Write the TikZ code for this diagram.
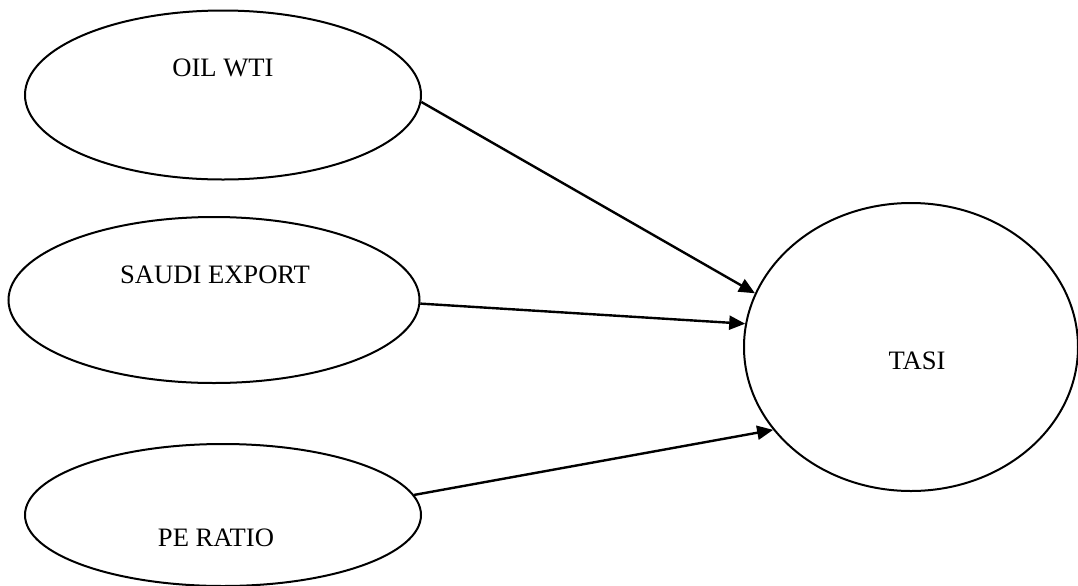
\documentclass[tikz,border=0pt]{standalone}
\usepackage{fontspec}
\setmainfont{Liberation Serif}
\usetikzlibrary{shapes.geometric,arrows.meta}
\begin{document}
\begin{tikzpicture}[x=0.5pt,y=-0.5pt,
  oval/.style={draw,ellipse,line width=1pt,inner sep=0pt},
  lbl/.style={font=\fontsize{13.3}{15}\selectfont,inner sep=0pt},
  conn/.style={line width=1.2pt,-{Triangle[length=8pt,width=7pt]}}]
\useasboundingbox (0,0) rectangle (1078,585);
\node[oval,minimum width=198pt,minimum height=84.5pt] (oil) at (223,95) {};
\node[oval,minimum width=205.5pt,minimum height=83pt] (saudi) at (214,300) {};
\node[oval,minimum width=198pt,minimum height=71pt] (pe) at (223,515) {};
\node[oval,minimum width=167pt,minimum height=144pt] (tasi) at (911,347) {};
\node[lbl] (toil) at (223,68) {OIL WTI};
\node[lbl] (tsaudi) at (215,275) {SAUDI EXPORT};
\node[lbl] (tpe) at (216,538) {PE RATIO};
\node[lbl] (ttasi) at (917,361) {TASI};
\draw[conn] (oil.-2.3) -- (tasi.161.3);
\draw[conn] (saudi.-1) -- (tasi.172.4);
\draw[conn] (pe.6) -- (tasi.211.8);
\end{tikzpicture}
\end{document}
